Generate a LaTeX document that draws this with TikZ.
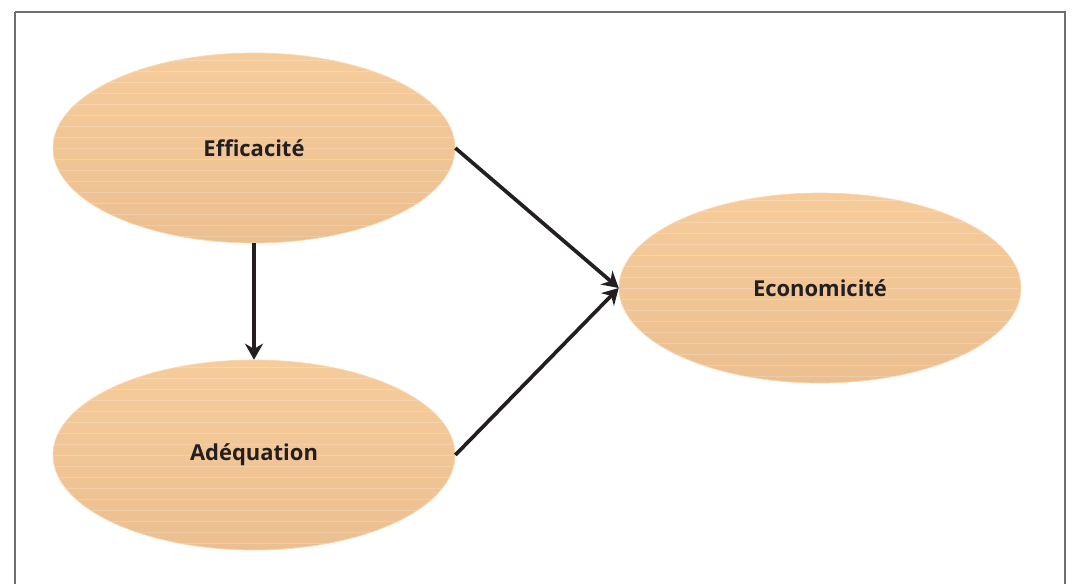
\documentclass[tikz,border=0pt]{standalone}
\usepackage{fontspec}
\setmainfont{Open Sans}
\usetikzlibrary{shapes.geometric,arrows.meta}

\definecolor{peachtop}{RGB}{247,204,155}
\definecolor{peachbot}{RGB}{235,191,143}
\definecolor{inkline}{RGB}{35,31,32}
\definecolor{framegray}{RGB}{110,110,110}

\tikzset{
  bubble/.style = {ellipse, inner sep = 0pt, minimum width = 8.04cm, minimum height = 3.8cm,
    top color = peachtop, bottom color = peachbot, draw = peachtop!80!white, line width = 0.4pt,
    font = \bfseries\fontsize{12.5}{15}\selectfont, text = inkline,
    path picture = {
      \foreach \k in {-8,...,8}
        \draw [white, opacity = 0.2, line width = 0.4pt]
          ([yshift = \k*0.22cm]path picture bounding box.west) -- ([yshift = \k*0.22cm]path picture bounding box.east);
    }},
  link/.style = {draw = inkline, line width = 2.1pt, -{Stealth[length = 0.32cm, width = 0.36cm]}}
}

\begin{document}
\begin{tikzpicture}[x = 0.02cm, y = -0.02cm]
\useasboundingbox (0,0) rectangle (1072,583);
\draw [framegray, line width = 0.9pt] (15,12) -- (1065,12) -- (1065,600) (15,12) -- (15,600);

\node [bubble] (eff) at (254,148) {Efficacité};
\node [bubble] (ade) at (254,455) {Adéquation};
\node [bubble] (eco) at (820,288) {Economicité};

\draw [link] (eff.south) -- (ade.north);
\draw [link] (eff.east) -- (eco.west);
\draw [link] (ade.east) -- (eco.west);

\end{tikzpicture}
\end{document}
